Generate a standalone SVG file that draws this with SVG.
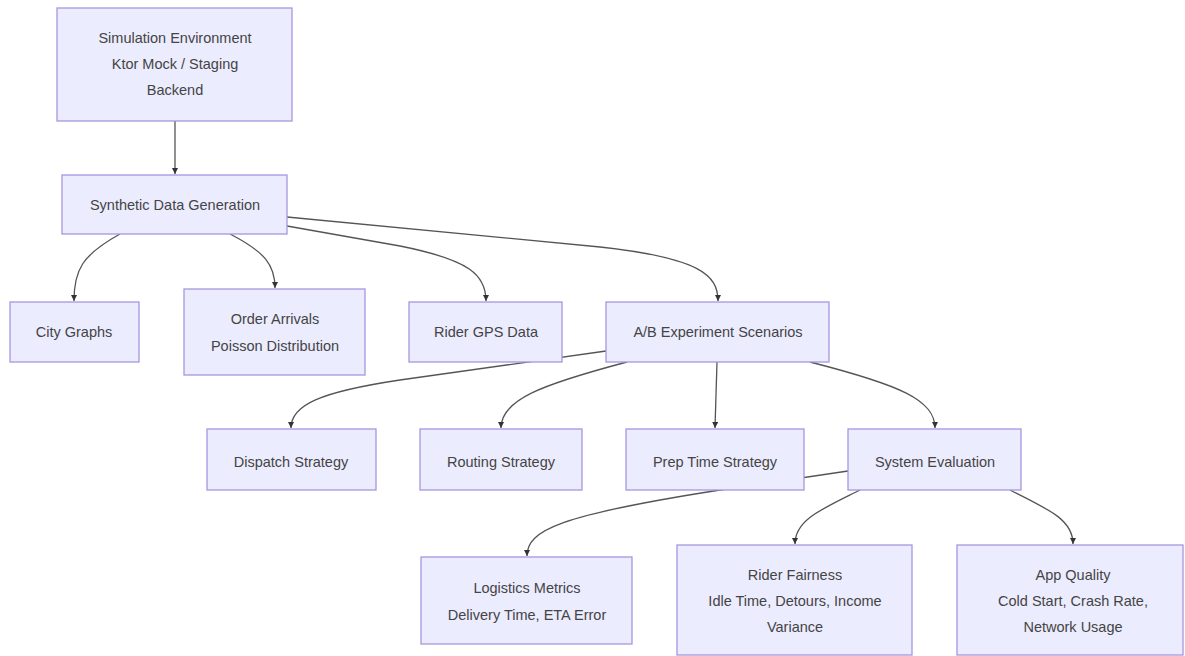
<svg xmlns="http://www.w3.org/2000/svg" width="1185" height="656" viewBox="0 0 1185 656">
<style>
.node rect{fill:#ECECFF;stroke:#a797e0;stroke-width:1.3}
.node text{font-family:"Liberation Sans",Arial,sans-serif;font-size:14.5px;fill:#444;text-anchor:middle;dominant-baseline:central}
.edge{fill:none;stroke:#555;stroke-width:1.3}
</style>
<defs>
<marker id="arr" viewBox="0 0 10 10" refX="10" refY="5" markerWidth="6" markerHeight="6" orient="auto" markerUnits="userSpaceOnUse">
<path d="M0,0 L10,5 L0,10 z" fill="#333"/>
</marker>
</defs>
<rect width="1185" height="656" fill="#fff"/>
<g id="connectors">
<path class="edge" marker-end="url(#arr)" d="M175,121 L175,174"/>
<path class="edge" marker-end="url(#arr)" d="M120,234 C82,255 74,270 74,301"/>
<path class="edge" marker-end="url(#arr)" d="M230,234 C265,252 275,265 275,288"/>
<path class="edge" marker-end="url(#arr)" d="M287,226 L400,246 C470,260 486,275 486,301"/>
<path class="edge" marker-end="url(#arr)" d="M287,217 L600,247 C700,258 718,275 718,301"/>
<path class="edge" marker-end="url(#arr)" d="M606,351 L400,380 C320,392 291,405 291,428"/>
<path class="edge" marker-end="url(#arr)" d="M627,362 C540,385 501,400 501,428"/>
<path class="edge" marker-end="url(#arr)" d="M717,362 L715,428"/>
<path class="edge" marker-end="url(#arr)" d="M810,362 C900,385 935,400 935,428"/>
<path class="edge" marker-end="url(#arr)" d="M848,471 L720,490 C560,515 527,530 527,556"/>
<path class="edge" marker-end="url(#arr)" d="M860,490 C820,510 795,520 795,544"/>
<path class="edge" marker-end="url(#arr)" d="M1010,490 C1050,510 1073,520 1073,544"/>
</g>
<g id="sim" class="node"><rect x="57" y="8" width="235" height="113"/><text x="175" y="38">Simulation Environment</text><text x="175" y="64">Ktor Mock / Staging</text><text x="175" y="90">Backend</text></g>
<g id="synth" class="node"><rect x="62" y="175" width="225" height="59"/><text x="175" y="205">Synthetic Data Generation</text></g>
<g id="city" class="node"><rect x="10" y="302" width="129" height="60"/><text x="74" y="332">City Graphs</text></g>
<g id="orders" class="node"><rect x="184" y="289" width="181" height="86"/><text x="275" y="319">Order Arrivals</text><text x="275" y="346">Poisson Distribution</text></g>
<g id="gps" class="node"><rect x="409" y="302" width="153" height="60"/><text x="486" y="332">Rider GPS Data</text></g>
<g id="ab" class="node"><rect x="606" y="302" width="223" height="60"/><text x="718" y="332">A/B Experiment Scenarios</text></g>
<g id="dispatch" class="node"><rect x="207" y="429" width="169" height="61"/><text x="291" y="462">Dispatch Strategy</text></g>
<g id="routing" class="node"><rect x="420" y="429" width="162" height="61"/><text x="501" y="462">Routing Strategy</text></g>
<g id="prep" class="node"><rect x="626" y="429" width="178" height="61"/><text x="715" y="462">Prep Time Strategy</text></g>
<g id="syseval" class="node"><rect x="848" y="429" width="173" height="61"/><text x="935" y="462">System Evaluation</text></g>
<g id="logistics" class="node"><rect x="421" y="557" width="211" height="87"/><text x="527" y="588">Logistics Metrics</text><text x="527" y="615">Delivery Time, ETA Error</text></g>
<g id="fairness" class="node"><rect x="677" y="545" width="235" height="110"/><text x="795" y="575">Rider Fairness</text><text x="795" y="601">Idle Time, Detours, Income</text><text x="795" y="627">Variance</text></g>
<g id="appq" class="node"><rect x="957" y="545" width="226" height="110"/><text x="1073" y="575">App Quality</text><text x="1073" y="601">Cold Start, Crash Rate,</text><text x="1073" y="627">Network Usage</text></g>
</svg>
